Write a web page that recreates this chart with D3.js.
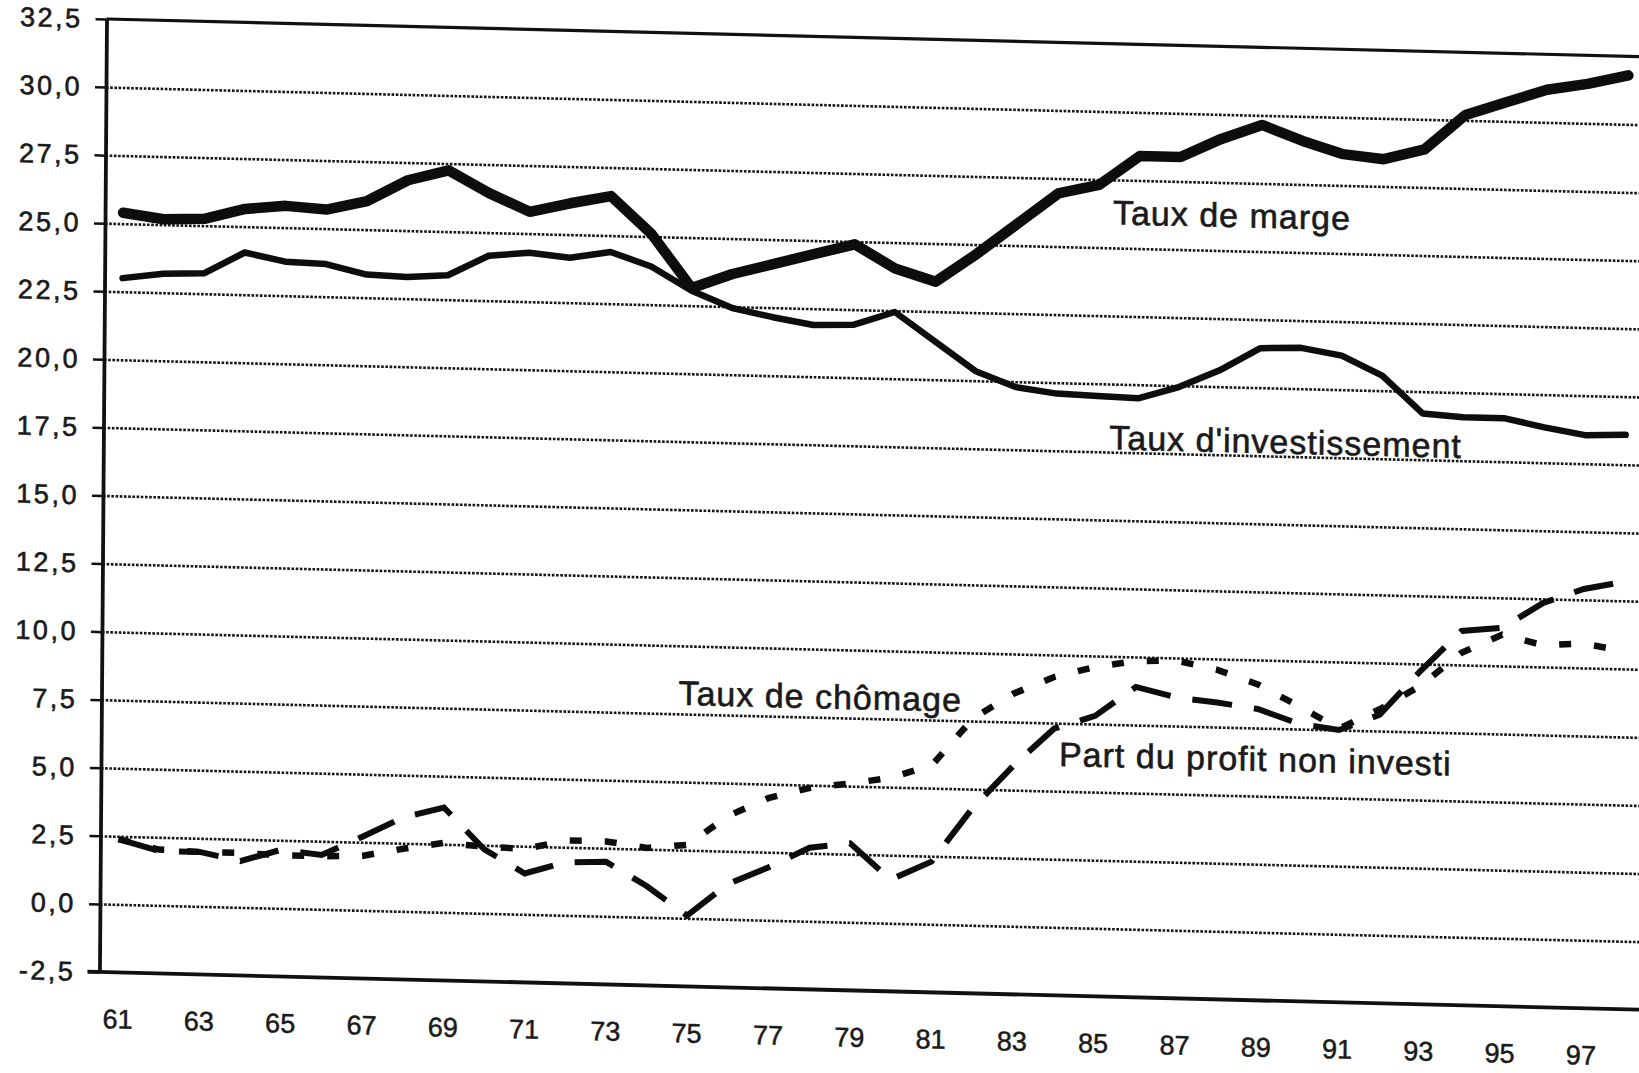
<!DOCTYPE html>
<html>
<head>
<meta charset="utf-8">
<script src="https://cdn.jsdelivr.net/npm/d3@7"></script>
<style>
body { margin: 0; background: #fff; }
svg { display: block; font-family: 'Liberation Sans', Arial, sans-serif; }
</style>
</head>
<body>
<div id="chart"></div>
<script>
// annees 1961-1998
var years = [61, 62, 63, 64, 65, 66, 67, 68, 69, 70,
	71, 72, 73, 74, 75, 76, 77, 78, 79, 80,
	81, 82, 83, 84, 85, 86, 87, 88, 89, 90,
	91, 92, 93, 94, 95, 96, 97, 98]

var tauxMarge = [25.4, 25.2, 25.25, 25.65, 25.8, 25.7, 26.05, 26.85, 27.25, 26.45,
	25.8, 26.15, 26.45, 25.1, 23.15, 23.7, 24.1, 24.5, 24.9, 24.05,
	23.6, 24.65, 25.8, 26.95, 27.3, 28.4, 28.4, 29.1, 29.65, 29.1,
	28.65, 28.5, 28.9, 30.2, 30.7, 31.2, 31.45, 31.8]

var tauxInvest = [23.0, 23.2, 23.25, 24.05, 23.75, 23.7, 23.35, 23.3, 23.4, 24.15,
	24.3, 24.15, 24.4, 23.9, 23.05, 22.45, 22.15, 21.9, 21.95, 22.45,
	21.4, 20.35, 19.8, 19.6, 19.55, 19.5, 19.95, 20.6, 21.45, 21.5,
	21.25, 20.55, 19.2, 19.1, 19.1, 18.8, 18.55, 18.6]

var partProfit = [2.4, 2.0, 2.0, 1.7, 2.15, 2.0, 2.7, 3.45, 3.85, 2.35,
	1.5, 1.95, 2.0, 1.15, 0.1, 1.3, 1.95, 2.7, 2.9, 1.6,
	2.3, 4.3, 5.9, 7.3, 7.8, 8.9, 8.55, 8.4, 8.2, 7.7,
	7.5, 8.1, 9.75, 11.25, 11.4, 12.35, 12.9, 13.2]

var tauxChomage = [2.4, 2.05, 2.0, 2.0, 1.95, 1.95, 2.0, 2.3, 2.55, 2.45,
	2.4, 2.75, 2.75, 2.55, 2.7, 3.8, 4.5, 4.9, 5.1, 5.35,
	5.85, 7.6, 8.55, 9.2, 9.6, 9.85, 9.9, 9.6, 9.1, 8.35,
	7.55, 8.3, 9.2, 10.45, 11.15, 10.8, 10.9, 10.65]

var yTicks = [32.5, 30, 27.5, 25, 22.5, 20, 17.5, 15, 12.5, 10, 7.5, 5, 2.5, 0, -2.5]
var xTicks = [61, 63, 65, 67, 69, 71, 73, 75, 77, 79, 81, 83, 85, 87, 89, 91, 93, 95, 97]

var labels = [
	{ text: 'Taux de marge', year: 85.35, value: 25.87 },
	{ text: "Taux d'investissement", year: 85.3, value: 17.6 },
	{ text: 'Taux de chômage', year: 74.75, value: 7.83 },
	{ text: 'Part du profit non investi', year: 84.12, value: 5.93 }
]

var W = 1639, H = 1073
var plotW = 1545, plotH = 953

var svg = d3.select('#chart').append('svg')
	.attr('width', W).attr('height', H)

// la page scannee est un peu de travers
var g = svg.append('g')
	.attr('transform', 'matrix(1,0.0245,-0.0074,1,106.5,19)')

var x = d3.scaleLinear().domain([61, 98]).range([18, 1522])
var y = d3.scaleLinear().domain([-2.5, 32.5]).range([plotH, 0])

var fr = d3.formatLocale({ decimal: ',', thousands: '.', grouping: [3], currency: ['', ' €'], minus: '-' })
var fmt = fr.format('.1f')

// grille en pointilles
var grid = g.append('g').attr('class', 'grid')
	.call(d3.axisLeft(y).tickValues(yTicks.slice(1, -1)).tickSize(-plotW).tickFormat(''))
grid.select('.domain').remove()
grid.selectAll('line')
	.attr('stroke', '#151515').attr('stroke-width', 2.6)
	.attr('stroke-dasharray', '2.6,1.6')

// cadre haut et bas
g.append('line').attr('x1', 0).attr('x2', plotW)
	.attr('y1', y(32.5)).attr('y2', y(32.5))
	.attr('stroke', '#111').attr('stroke-width', 3.2)
g.append('line').attr('x1', -12).attr('x2', plotW)
	.attr('y1', y(-2.5)).attr('y2', y(-2.5))
	.attr('stroke', '#111').attr('stroke-width', 3.8)

// axe vertical
var yAxis = g.append('g').attr('class', 'y-axis')
	.call(d3.axisLeft(y).tickValues(yTicks).tickSize(11).tickSizeOuter(0).tickPadding(13).tickFormat(fmt))
yAxis.select('.domain').attr('stroke', '#111').attr('stroke-width', 3.8)
yAxis.selectAll('line').attr('stroke', '#111').attr('stroke-width', 2.5)
yAxis.selectAll('text')
	.attr('fill', '#1a1a1a')
	.attr('stroke', '#1a1a1a').attr('stroke-width', 0.6)
	.style('font-size', '27px')
	.style('letter-spacing', '2.5px')

// annees
var xAxis = g.append('g').attr('class', 'x-axis')
	.attr('transform', 'translate(0,' + plotH + ')')
	.call(d3.axisBottom(x).tickValues(xTicks).tickSize(0).tickPadding(37).tickFormat(d3.format('d')))
xAxis.select('.domain').remove()
xAxis.selectAll('text')
	.attr('fill', '#1a1a1a')
	.attr('stroke', '#1a1a1a').attr('stroke-width', 0.5)
	.style('font-size', '27px')

var line = d3.line()
	.x(function(d, i) { return x(years[i]) })
	.y(function(d) { return y(d) })

g.append('path').datum(tauxInvest)
	.attr('d', line).attr('fill', 'none')
	.attr('stroke', '#0d0d0d').attr('stroke-width', 6.5)
	.attr('stroke-linejoin', 'round').attr('stroke-linecap', 'round')

g.append('path').datum(tauxMarge)
	.attr('d', line).attr('fill', 'none')
	.attr('stroke', '#0d0d0d').attr('stroke-width', 10.5)
	.attr('stroke-linejoin', 'round').attr('stroke-linecap', 'round')

g.append('path').datum(tauxChomage)
	.attr('d', line).attr('fill', 'none')
	.attr('stroke', '#0d0d0d').attr('stroke-width', 6.5)
	.attr('stroke-dasharray', '12,23')

g.append('path').datum(partProfit)
	.attr('d', line).attr('fill', 'none')
	.attr('stroke', '#0d0d0d').attr('stroke-width', 6)
	.attr('stroke-dasharray', '40,22')

g.selectAll('text.note').data(labels).enter().append('text')
	.attr('class', 'note')
	.attr('x', function(d) { return x(d.year) })
	.attr('y', function(d) { return y(d.value) })
	.attr('fill', '#1a1a1a')
	.attr('stroke', '#1a1a1a').attr('stroke-width', 0.6)
	.style('font-size', '34px')
	.style('letter-spacing', '1px')
	.text(function(d) { return d.text })
</script>
</body>
</html>
